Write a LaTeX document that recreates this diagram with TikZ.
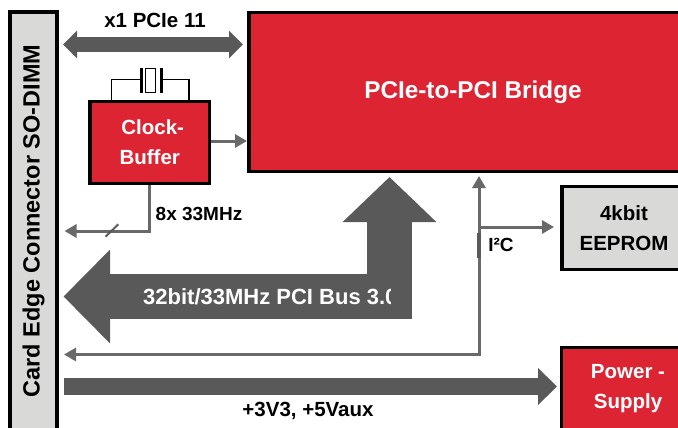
\documentclass[tikz,border=0pt]{standalone}
\usepackage{fontspec}
\setmainfont{Liberation Sans}
\usetikzlibrary{arrows.meta}
\definecolor{boxred}{HTML}{DD2433}
\definecolor{boxgray}{HTML}{D9D9D8}
\definecolor{busgray}{HTML}{595959}
\definecolor{wiregray}{HTML}{696969}
\tikzset{
    block/.style={draw=black, line width=3.2pt, align=center, inner sep=0pt, font=\bfseries\fontsize{20.5}{30}\selectfont},
    redblock/.style={block, fill=boxred, text=white},
    grayblock/.style={block, fill=boxgray, text=black},
    buslabel/.style={inner sep=0pt, font=\bfseries\fontsize{20.5}{24}\selectfont},
    smalllabel/.style={inner sep=0pt, font=\bfseries\fontsize{19}{22}\selectfont},
    wire/.style={draw=wiregray, line width=3pt, -{Triangle[length=12pt,width=13pt]}},
    xtalwire/.style={draw=black, line width=1.6pt}
}
\begin{document}
\begin{tikzpicture}[x=1pt, y=-1pt]
    \useasboundingbox (0,0) rectangle (678,428);

    % Boxes
    \node[grayblock, minimum width=418pt, minimum height=47pt, rotate=90, font=\bfseries\fontsize{23.5}{28}\selectfont] (conn) at (33.5,221) {Card Edge Connector SO-DIMM};
    \node[redblock, minimum width=448pt, minimum height=159pt, font=\bfseries\fontsize{24.3}{29}\selectfont] (bridge) at (473,92) {PCIe-to-PCI Bridge};
    \node[redblock, minimum width=119.5pt, minimum height=82pt] (clockbuf) at (149.75,142.5) {\hspace*{6pt}Clock-\\Buffer};
    \node[grayblock, minimum width=124pt, minimum height=83pt] (eeprom) at (624,228) {4kbit\\EEPROM};
    \node[redblock, minimum width=133pt, minimum height=83pt] (power) at (628,389) {Power -\\Supply};

    % Crystal
    \node[draw=black, line width=1.4pt, minimum width=10.5pt, minimum height=24pt, inner sep=0pt] (xtal) at (150.5,80.5) {};
    \coordinate (xtalL) at (141,79.5);
    \coordinate (xtalR) at (161.5,79.5);
    \draw[xtalwire] (clockbuf.north -| 111.5,0) |- (xtalL);
    \draw[xtalwire] (clockbuf.north -| 189,0) |- (xtalR);
    \draw[black, line width=3pt] (141,68) -- (141,93);
    \draw[black, line width=3pt] (161.5,68) -- (161.5,93);

    % PCIe
    \coordinate (pcieL) at (63,44.5);
    \coordinate (pcieR) at (243,44.5);
    \draw[busgray, line width=14.5pt, {Triangle[length=14pt,width=27pt]}-{Triangle[length=14pt,width=27pt]}] (pcieL) -- (pcieR);
    \node[buslabel] (pcielabel) at (155,20.5) {x1 PCIe 11};

    % Clock
    \coordinate (clkin) at (247,141);
    \coordinate (clkout) at (64.5,231);
    \draw[wire] (clockbuf.east |- clkin) -- (clkin);
    \draw[wire] (clockbuf.south) |- (clkout);
    \draw[busgray, line width=2pt] (105.5,236.7) -- (118.3,224.3);
    \node[smalllabel] (clklabel) at (199,213.5) {8x 33MHz};

    % PCI bus
    \coordinate (pciup) at (389.5,177);
    \coordinate (pcileft) at (63.5,296.5);
    \draw[busgray, line width=45pt, line join=miter, {Triangle[length=45pt,width=91pt]}-{Triangle[length=46.5pt,width=91pt]}] (pciup) |- (pcileft);
    \begin{scope}
        \clip (140,280) rectangle (390,315);
        \node[anchor=west, inner sep=0pt, text=white, font=\bfseries\fontsize{22}{26}\selectfont] (pcilabel) at (143,297) {32bit/33MHz PCI Bus 3.0};
    \end{scope}

    % I2C
    \coordinate (i2cup) at (479,176);
    \coordinate (i2cleft) at (64,354.5);
    \coordinate (i2cbranch) at (479,227);
    \coordinate (i2cright) at (554,227);
    \draw[wire, {Triangle[length=12pt,width=13pt]}-{Triangle[length=12pt,width=13pt]}] (i2cup) |- (i2cleft);
    \draw[wire] (i2cbranch) -- (i2cright);
    \draw[busgray, line width=4pt] (479,233) -- (479,258);
    \node[smalllabel] (i2clabel) at (501,245) {I²C};

    % Power
    \coordinate (pwrL) at (64,386.5);
    \coordinate (pwrR) at (557,386.5);
    \draw[busgray, line width=17pt, -{Triangle[length=19pt,width=36pt]}] (pwrL) -- (pwrR);
    \node[buslabel] (pwrlabel) at (308,411) {+3V3, +5Vaux};
\end{tikzpicture}
\end{document}
